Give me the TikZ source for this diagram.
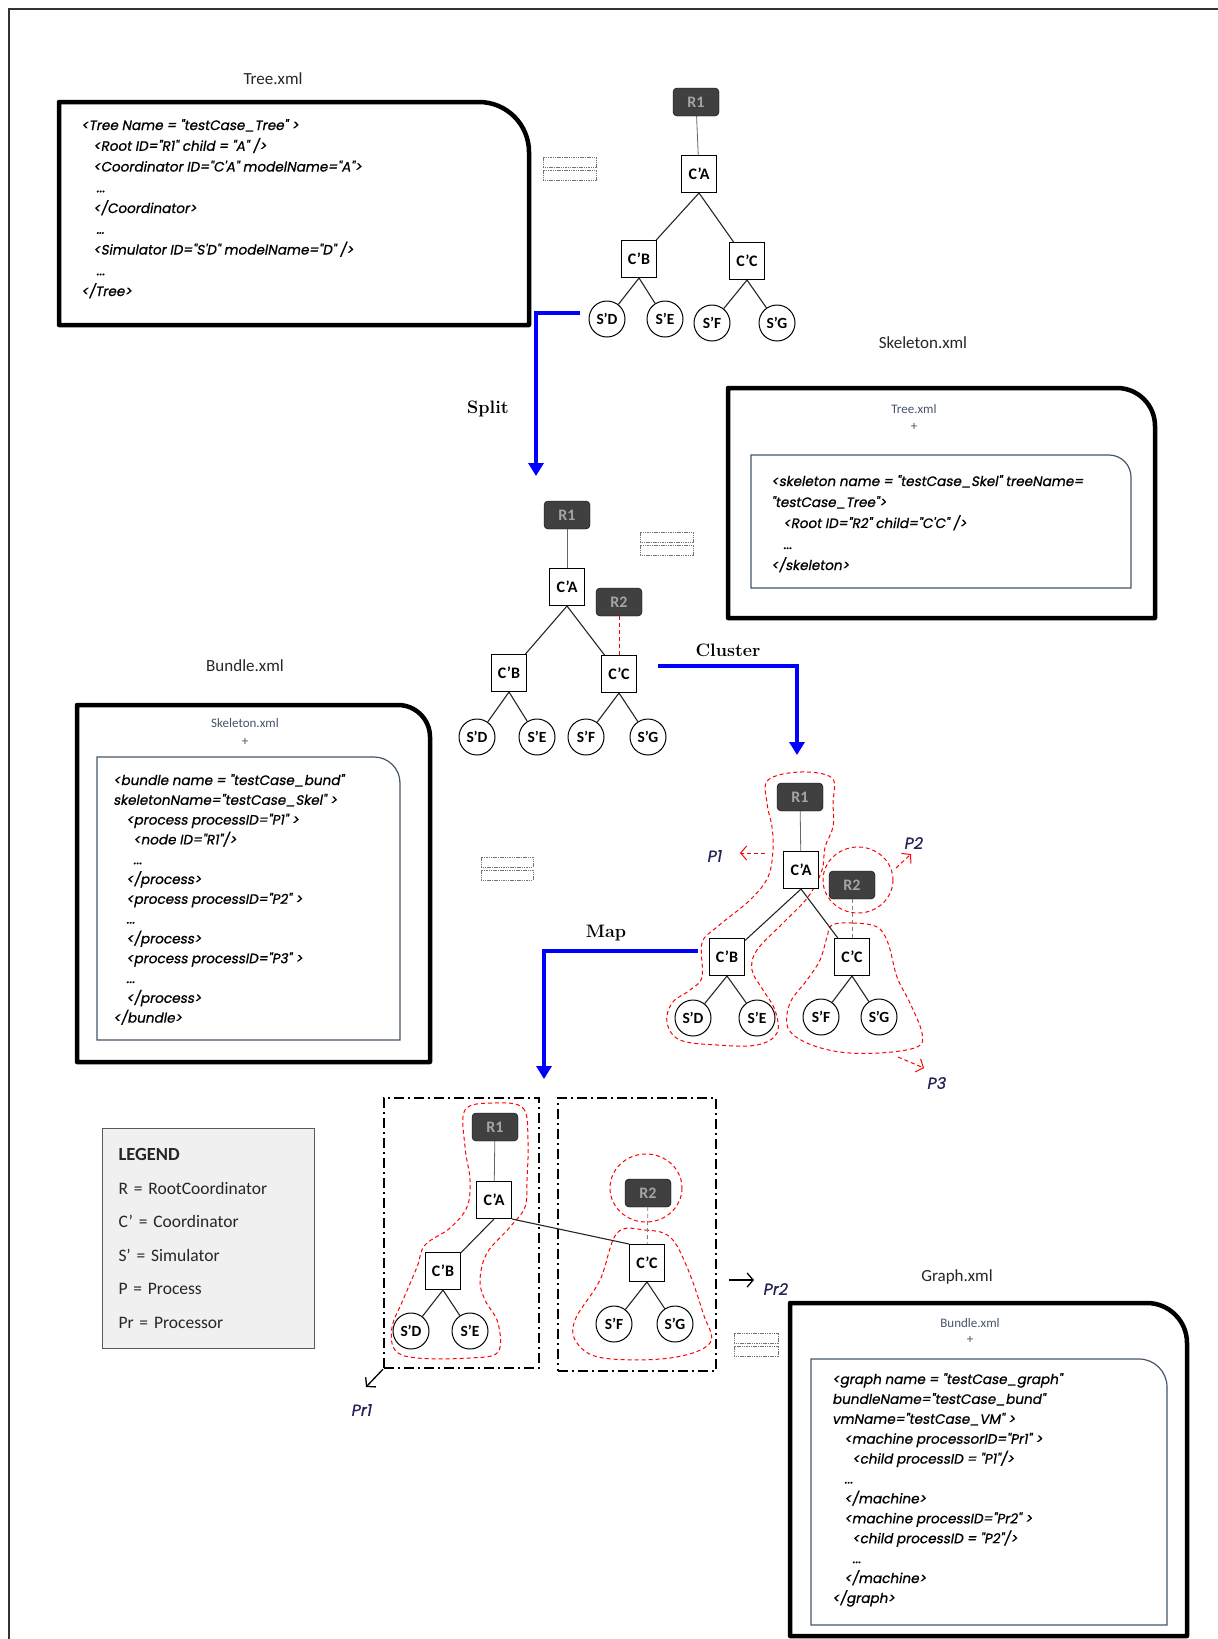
\documentclass[tikz,border=0pt]{standalone}
\usepackage{fontspec}
\newfontfamily\calfont{Carlito}
\newfontfamily\xmlfont[FakeSlant=0.18, FakeBold=0.8]{Poppins}
\usetikzlibrary{arrows.meta}
\definecolor{rootfill}{RGB}{64,64,64}
\definecolor{roottext}{RGB}{165,165,165}
\definecolor{slate}{RGB}{68,84,106}
\definecolor{legendfill}{RGB}{240,240,240}
\definecolor{labelblue}{RGB}{35,35,85}

\newcommand{\docbox}[6]{%
  \draw[#1] (#2,#5) -- (#2,#3) -- ({#4-#6},#3) .. controls ({#4-0.448*#6},#3) and (#4,{#3+0.448*#6}) .. (#4,{#3+#6}) -- (#4,#5) -- cycle;}
\newcommand{\eqsign}[3]{%
  \draw[eqbar] (#1,#2) rectangle ++(#3,10);
  \draw[eqbar] (#1,{#2+13}) rectangle ++(#3,10);}

\begin{document}
\begin{tikzpicture}[x=1pt, y=-1pt]
    \tikzstyle{coordbox} = [rectangle, draw, fill=white, line width=1pt, minimum width=35pt, minimum height=37pt, inner sep=2pt, font=\calfont\bfseries\fontsize{16}{18}\selectfont]
    \tikzstyle{simnode} = [circle, draw, fill=white, line width=1pt, minimum size=36pt, inner sep=0pt, font=\calfont\bfseries\fontsize{15.5}{17}\selectfont]
    \tikzstyle{rootbox} = [rectangle, rounded corners=4pt, draw=black, fill=rootfill, text=roottext, minimum width=46pt, minimum height=28pt, font=\calfont\bfseries\fontsize{16}{18}\selectfont]
    \tikzstyle{link} = [line width=1.1pt, black!85]
    \tikzstyle{rootlink} = [line width=0.8pt, black!60]
    \tikzstyle{outerdoc} = [line width=4.5pt, black, line join=round]
    \tikzstyle{innerdoc} = [line width=1.2pt, slate]
    \tikzstyle{xmltext} = [anchor=base west, inner sep=0pt, text=black]
    \tikzstyle{filelabel} = [font=\calfont\fontsize{17}{19}\selectfont, text=black!85]
    \tikzstyle{innerlabel} = [font=\calfont\fontsize{13}{15}\selectfont, text=slate]
    \tikzstyle{eqbar} = [line width=0.9pt, black!55, dash pattern=on 1.5pt off 0.8pt]
    \tikzstyle{flow} = [line width=4pt, blue, -{Triangle[length=13pt, width=15pt]}]
    \tikzstyle{flowlabel} = [font=\bfseries\fontsize{18}{20}\selectfont]
    \tikzstyle{blob} = [red, line width=1pt, dash pattern=on 4pt off 3pt]
    \tikzstyle{pto} = [red, line width=1pt, dash pattern=on 4pt off 3pt, -{Straight Barb[length=6pt, width=14pt]}]
    \tikzstyle{prto} = [black, line width=1.3pt, -{Straight Barb[length=6pt, width=14pt]}]
    \tikzstyle{plabel} = [font=\xmlfont\fontsize{16}{18}\selectfont, text=labelblue]
    \tikzstyle{procbox} = [line width=2.2pt, dash pattern=on 10pt off 4pt on 2pt off 4pt]

    \useasboundingbox (0,0) rectangle (1218,1639);
    \draw[line width=1.5pt, black!80] (9,1639) -- (9,9) -- (1218,9);

    % file boxes
    \node[filelabel] (treelabel) at (273,79) {Tree.xml};
    \docbox{outerdoc}{59}{102}{529}{325}{50}
    \node[xmltext, font=\xmlfont\fontsize{13.6}{20.75}\selectfont] (treexml) at (81,130) {\parbox[t]{420pt}{\raggedright
        <Tree Name = "testCase\_Tree" >\\
        \hspace*{12pt}<Root ID="R1" child = "A" />\\
        \hspace*{12pt}<Coordinator ID="C'A" modelName="A">\\
        \hspace*{15pt}...\\
        \hspace*{12pt}</Coordinator>\\
        \hspace*{15pt}…\\
        \hspace*{12pt}<Simulator ID="S'D" modelName="D" />\\
        \hspace*{15pt}...\\
        </Tree>}};

    \node[filelabel] (skellabel) at (923,343) {Skeleton.xml};
    \docbox{outerdoc}{728}{388}{1155}{618}{38}
    \node[innerlabel] (skeltree) at (914,409) {Tree.xml};
    \node[innerlabel] (skelplus) at (914,427) {+};
    \docbox{innerdoc}{751}{455}{1131}{588}{22}
    \node[xmltext, font=\xmlfont\fontsize{13.6}{21}\selectfont] (skelxml) at (771,486) {\parbox[t]{380pt}{\raggedright
        <skeleton name = "testCase\_Skel" treeName=\\
        "testCase\_Tree">\\
        \hspace*{12pt}<Root ID="R2" child="C'C" />\\
        \hspace*{12pt}...\\
        </skeleton>}};

    \node[filelabel] (bundlabel) at (245,666) {Bundle.xml};
    \docbox{outerdoc}{77}{705}{430}{1062}{32}
    \node[innerlabel] (bundskel) at (245,723) {Skeleton.xml};
    \node[innerlabel] (bundplus) at (245,742) {+};
    \docbox{innerdoc}{97}{757}{400}{1040}{26}
    \node[xmltext, font=\xmlfont\fontsize{13.6}{19.8}\selectfont] (bundxml) at (113,785) {\parbox[t]{300pt}{\raggedright
        <bundle name = "testCase\_bund"\\
        skeletonName="testCase\_Skel" >\\
        \hspace*{13pt}<process processID="P1" >\\
        \hspace*{20pt}<node ID="R1"/>\\
        \hspace*{20pt}...\\
        \hspace*{13pt}</process>\\
        \hspace*{13pt}<process processID="P2" >\\
        \hspace*{13pt}...\\
        \hspace*{13pt}</process>\\
        \hspace*{13pt}<process processID="P3" >\\
        \hspace*{13pt}...\\
        \hspace*{13pt}</process>\\
        </bundle>}};

    \node[filelabel] (graphlabel) at (957,1277) {Graph.xml};
    \docbox{outerdoc}{790}{1303}{1187}{1636}{40}
    \node[innerlabel] (graphbund) at (970,1323) {Bundle.xml};
    \node[innerlabel] (graphplus) at (970,1340) {+};
    \docbox{innerdoc}{811}{1359}{1167}{1625}{28}
    \node[xmltext, font=\xmlfont\fontsize{13.6}{19.9}\selectfont] (graphxml) at (832,1384) {\parbox[t]{330pt}{\raggedright
        <graph name = "testCase\_graph"\\
        bundleName="testCase\_bund"\\
        vmName="testCase\_VM" >\\
        \hspace*{12pt}<machine processorID="Pr1" >\\
        \hspace*{20pt}<child processID = "P1"/>\\
        \hspace*{12pt}...\\
        \hspace*{12pt}</machine>\\
        \hspace*{12pt}<machine processID="Pr2" >\\
        \hspace*{20pt}<child processID = "P2"/>\\
        \hspace*{20pt}...\\
        \hspace*{12pt}</machine>\\
        </graph>}};

    \eqsign{543}{157}{53}
    \eqsign{640}{532}{53}
    \eqsign{481}{857}{52}
    \eqsign{734}{1333}{44}

    % legend
    \node[draw=black!65, line width=1pt, fill=legendfill, anchor=north west, minimum width=212pt, minimum height=220pt, text width=180pt, inner xsep=16pt, align=left, text=black!85, font=\calfont\fontsize{17.5}{33.6}\selectfont] (legend) at (102,1128)
        {{\bfseries\fontsize{18.5}{20}\selectfont LEGEND}\\[0pt]
         R = RootCoordinator\\
         C’ = Coordinator\\
         S’ = Simulator\\
         P = Process\\
         Pr = Processor};

    % process outlines
    \draw[blob] plot[smooth cycle, tension=0.6] coordinates {(768,780) (800,772) (832,778) (833,803) (833,827) (825,847) (822,870) (808,897) (783,923) (757,950) (752,970) (763,990) (775,1010) (777,1033) (757,1045) (717,1045) (680,1040) (667,1023) (672,1003) (690,990) (702,977) (702,943) (717,927) (750,900) (768,877) (773,850) (772,827) (767,803)};
    \draw[blob] (858,880) ellipse[x radius=35, y radius=33];
    \draw[blob] plot[smooth cycle, tension=0.6] coordinates {(832,925) (853,923) (877,927) (888,943) (897,977) (910,1003) (922,1033) (917,1047) (880,1053) (840,1052) (807,1043) (788,1028) (790,1003) (807,980) (820,960) (827,937)};
    \draw[blob] plot[smooth cycle, tension=0.6] coordinates {(493,1103) (523,1108) (528,1140) (527,1180) (525,1207) (510,1227) (487,1253) (480,1280) (485,1300) (498,1323) (498,1352) (470,1358) (417,1358) (395,1350) (392,1327) (403,1300) (417,1267) (425,1245) (450,1228) (467,1207) (470,1180) (465,1147) (465,1110)};
    \draw[blob] (646,1188) ellipse[x radius=36, y radius=34];
    \draw[blob] plot[smooth cycle, tension=0.6] coordinates {(617,1233) (645,1230) (670,1237) (687,1267) (703,1313) (710,1343) (670,1358) (603,1358) (577,1343) (575,1320) (600,1280)};

    \node[procbox, draw, anchor=north west, minimum width=155pt, minimum height=270pt] (proc1) at (383,1097) {};
    \node[procbox, draw, anchor=north west, minimum width=158pt, minimum height=273pt] (proc2) at (557,1097) {};

    % tree
    \node[rootbox] (ar1) at (696,102) {R1};
    \node[coordbox] (aca) at (699,174) {C’A};
    \node[coordbox] (acb) at (639,259) {C’B};
    \node[coordbox] (acc) at (747,261) {C’C};
    \node[simnode] (asd) at (607,319) {S’D};
    \node[simnode] (ase) at (665,319) {S’E};
    \node[simnode] (asf) at (712,323) {S’F};
    \node[simnode] (asg) at (777,323) {S’G};

    % skeleton
    \node[rootbox] (br1) at (567,515) {R1};
    \node[coordbox] (bca) at (567,587) {C’A};
    \node[rootbox] (br2) at (619,602) {R2};
    \node[coordbox] (bcb) at (509,673) {C’B};
    \node[coordbox] (bcc) at (619,674) {C’C};
    \node[simnode] (bsd) at (477,737) {S’D};
    \node[simnode] (bse) at (537,737) {S’E};
    \node[simnode] (bsf) at (586,737) {S’F};
    \node[simnode] (bsg) at (648,737) {S’G};

    % bundle
    \node[rootbox] (cr1) at (800,797) {R1};
    \node[coordbox] (cca) at (801,870) {C’A};
    \node[rootbox] (cr2) at (852,885) {R2};
    \node[coordbox] (ccb) at (727,957) {C’B};
    \node[coordbox] (ccc) at (852,957) {C’C};
    \node[simnode] (csd) at (693,1018) {S’D};
    \node[simnode] (cse) at (757,1018) {S’E};
    \node[simnode] (csf) at (821,1017) {S’F};
    \node[simnode] (csg) at (879,1017) {S’G};

    % graph
    \node[rootbox] (dr1) at (495,1127) {R1};
    \node[coordbox] (dca) at (494,1200) {C’A};
    \node[coordbox] (dcb) at (443,1271) {C’B};
    \node[simnode] (dsd) at (411,1331) {S’D};
    \node[simnode] (dse) at (470,1331) {S’E};
    \node[rootbox] (dr2) at (648,1193) {R2};
    \node[coordbox] (dcc) at (647,1263) {C’C};
    \node[simnode] (dsf) at (614,1324) {S’F};
    \node[simnode] (dsg) at (675,1324) {S’G};

    \foreach \r/\c in {ar1/aca, br1/bca, cr1/cca, dr1/dca}
        \draw[rootlink] (\r) -- (\c);
    \foreach \p/\c in {aca/acb, aca/acc, acb/asd, acb/ase, acc/asf, acc/asg,
                       bca/bcb, bca/bcc, bcb/bsd, bcb/bse, bcc/bsf, bcc/bsg,
                       cca/ccb, cca/ccc, ccb/csd, ccb/cse, ccc/csf, ccc/csg,
                       dca/dcb, dcb/dsd, dcb/dse, dcc/dsf, dcc/dsg}
        \draw[link] (\p.south) -- (\c);
    \draw[link] (dca.south east) -- (dcc.north west);
    \draw[red, line width=1pt, dash pattern=on 4pt off 3pt] (br2) -- (bcc);
    \draw[black!50, line width=0.8pt, dash pattern=on 4pt off 3pt] (cr2) -- (ccc);
    \draw[black!50, line width=0.8pt, dash pattern=on 4pt off 3pt] (dr2) -- (dcc);

    % steps
    \coordinate (splitfrom) at (580,313);
    \coordinate (splitto) at (536,476);
    \coordinate (clusterfrom) at (658,666);
    \coordinate (clusterto) at (797,755);
    \coordinate (mapfrom) at (698,951);
    \coordinate (mapto) at (544,1079);
    \draw[flow] (splitfrom) -| (splitto);
    \draw[flow] (clusterfrom) -| (clusterto);
    \draw[flow] (mapfrom) -| (mapto);
    \node[flowlabel] (splitlabel) at (488,409) {Split};
    \node[flowlabel] (clusterlabel) at (728,650) {Cluster};
    \node[flowlabel] (maplabel) at (606,933) {Map};

    % process / processor labels
    \node[plabel] (p1) at (714,856) {P1};
    \node[plabel] (p2) at (913,843) {P2};
    \node[plabel] (p3) at (936,1083) {P3};
    \node[plabel] (pr1) at (361,1410) {Pr1};
    \node[plabel] (pr2) at (775,1289) {Pr2};
    \coordinate (p1from) at (765,853);
    \coordinate (p1to) at (740,853);
    \coordinate (p2from) at (896,868);
    \coordinate (p2to) at (911,854);
    \coordinate (p3from) at (898,1057);
    \coordinate (p3to) at (924,1068);
    \coordinate (pr1to) at (366,1387);
    \coordinate (pr2from) at (729,1280);
    \coordinate (pr2to) at (754,1280);
    \draw[pto] (p1from) -- (p1to);
    \draw[pto] (p2from) -- (p2to);
    \draw[pto] (p3from) -- (p3to);
    \draw[prto] (proc1.south west) -- (pr1to);
    \draw[prto] (pr2from) -- (pr2to);
\end{tikzpicture}
\end{document}
